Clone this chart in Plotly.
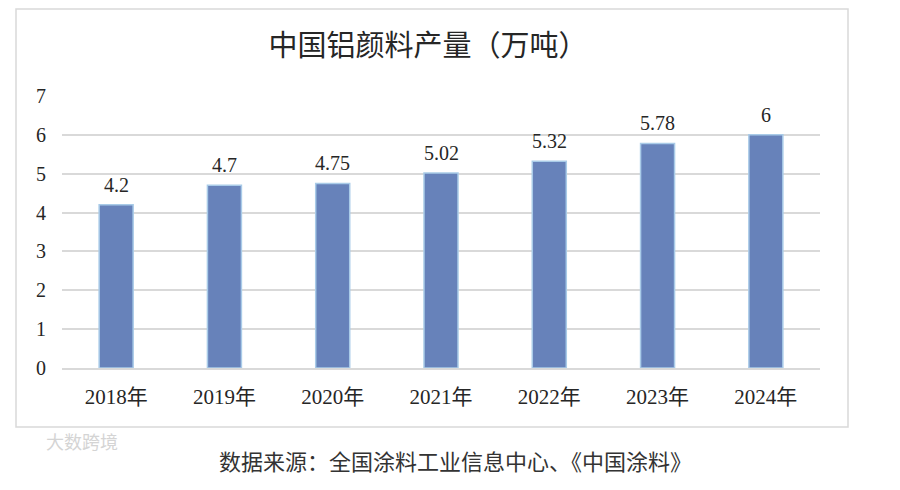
import plotly.graph_objects as go

years = ["2018年", "2019年", "2020年", "2021年", "2022年", "2023年", "2024年"]
output = [4.2, 4.7, 4.75, 5.02, 5.32, 5.78, 6]
labels = ["4.2", "4.7", "4.75", "5.02", "5.32", "5.78", "6"]
title_text = "中国铝颜料产量（万吨）"
source_text = "数据来源：全国涂料工业信息中心、《中国涂料》"
watermark = "大数跨境"

W, H = 900, 490
L, R, T, B = 62, 80, 96, 122
pw, ph = W - L - R, H - T - B

def px_x(p):
    return (p - L) / pw

def px_y(p):
    return (H - B - p) / ph

serif = "Liberation Serif, 'Noto Sans CJK SC', serif"

fig = go.Figure()
fig.add_trace(go.Bar(
    x=years, y=output,
    marker=dict(color="#6782ba", line=dict(color="#a9cbe8", width=1.5)),
    hoverinfo="x+y",
))

for yr, v, lab in zip(years, output, labels):
    fig.add_annotation(x=yr, y=v, text=lab, showarrow=False, yanchor="bottom",
                       yshift=7, font=dict(family=serif, size=20, color="#262626"))

fig.add_annotation(xref="paper", yref="paper", x=px_x(455), y=px_y(460),
                   text=source_text, showarrow=False, xanchor="center", yanchor="middle",
                   font=dict(family="'Noto Sans CJK SC', sans-serif", size=22, color="#333333"))
fig.add_annotation(xref="paper", yref="paper", x=px_x(82), y=px_y(441),
                   text=watermark, showarrow=False, xanchor="center", yanchor="middle",
                   font=dict(family="'Noto Sans CJK SC', sans-serif", size=18, color="#d4d4d4"))

fig.add_shape(type="rect", xref="paper", yref="paper",
              x0=px_x(16), x1=px_x(848), y0=px_y(427), y1=px_y(9),
              line=dict(color="#d9d9d9", width=1.5), layer="below")

fig.update_layout(
    width=W, height=H,
    margin=dict(l=L, r=R, t=T, b=B),
    paper_bgcolor="white", plot_bgcolor="white",
    bargap=0.686,
    showlegend=False,
    title=dict(text=title_text, x=428 / W, xanchor="center", xref="container",
               y=1 - 46 / H, yanchor="middle", yref="container",
               font=dict(family="'Noto Sans CJK SC', sans-serif", size=29, color="#262626")),
    font=dict(family=serif, size=20, color="#262626"),
)
fig.update_xaxes(showgrid=False, showline=True, linecolor="#d9d9d9", linewidth=1.5,
                 ticks="", ticklabelstandoff=9,
                 tickfont=dict(family=serif, size=21, color="#262626"))
fig.update_yaxes(range=[0, 7], dtick=1, showgrid=True, gridcolor="#d9d9d9", gridwidth=1.5,
                 zeroline=False, showline=False, ticks="", ticklabelstandoff=15,
                 tickfont=dict(family=serif, size=20, color="#262626"))

fig.write_html("out.html", config={"displayModeBar": False},
               post_script="document.body.style.margin='0';")
